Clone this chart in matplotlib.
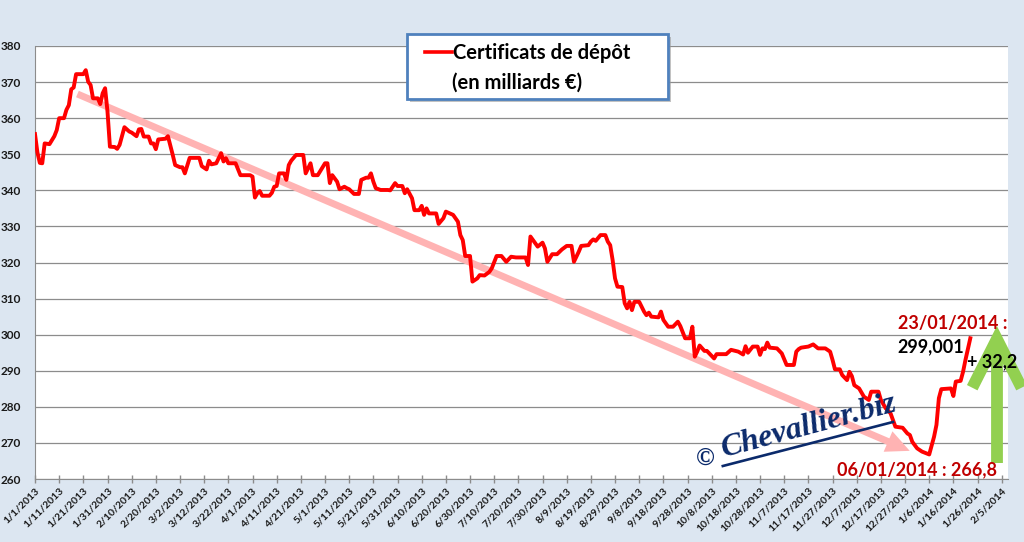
import datetime as dt
import matplotlib
matplotlib.use("Agg")
import matplotlib.pyplot as plt
from matplotlib.patches import FancyArrowPatch, Rectangle
from matplotlib.lines import Line2D

plt.rcParams['font.family'] = ['Lato', 'DejaVu Sans']

# ---- data (days since 1/1/2013, value in billions EUR) ----
days = [0, 1, 2, 3, 4, 6, 8, 9, 10, 12, 13, 14, 15, 16, 17, 20, 21, 22, 23, 24, 26, 27, 28, 29,
        30, 31, 33, 34, 35, 37, 39, 40, 42, 43, 44, 45, 47, 48, 49, 50, 51, 54, 55, 57, 58, 60,
        61, 62, 64, 68, 69, 71, 72, 73, 75, 76, 77, 78, 79, 80, 83, 85, 89, 90, 91, 92, 93, 94,
        97, 98, 99, 100, 101, 103, 104, 105, 106, 108, 111, 112, 114, 115, 117, 120, 121, 122,
        123, 125, 126, 128, 129, 130, 132, 134, 135, 137, 138, 139, 140, 141, 143, 146, 147,
        149, 150, 152, 153, 154, 156, 157, 159, 160, 161, 162, 163, 166, 167, 169, 170, 173,
        175, 176, 177, 178, 180, 181, 183, 184, 186, 188, 189, 191, 193, 195, 197, 199, 203,
        204, 205, 207, 208, 210, 211, 212, 214, 216, 218, 220, 222, 223, 225, 226, 229, 230,
        231, 232, 234, 236, 237, 238, 239, 240, 241, 243, 244, 245, 246, 247, 248, 250, 252,
        253, 254, 255, 258, 259, 260, 262, 264, 266, 267, 269, 271, 272, 273, 274, 275, 277,
        278, 281, 282, 286, 288, 291, 293, 294, 295, 297, 299, 300, 301, 302, 303, 304, 307,
        308, 309, 311, 314, 315, 316, 317, 320, 322, 324, 327, 329, 330, 331, 333, 334, 336,
        337, 338, 339, 341, 343, 345, 346, 349, 350, 352, 354, 356, 359, 361, 362, 363, 365,
        367, 370, 372, 373, 374, 375, 379, 380, 381, 383, 384, 385, 387]
values = [355.6, 350.5, 347.6, 347.5, 353.0, 352.8, 355.0, 356.7, 360.0, 360.0, 362.3, 363.6,
          368.0, 368.5, 372.2, 372.2, 373.3, 370.1, 369.2, 365.5, 365.5, 363.9, 366.9, 368.3,
          361.8, 352.1, 352.0, 351.5, 352.6, 357.5, 356.3, 356.0, 355.0, 356.9, 357.0, 354.9,
          354.9, 353.0, 353.0, 351.4, 354.1, 354.3, 355.0, 349.8, 347.0, 346.4, 346.4, 344.7,
          349.0, 349.0, 346.7, 345.8, 348.2, 347.2, 347.5, 348.9, 350.3, 348.0, 348.9, 347.5,
          347.5, 344.2, 344.2, 343.8, 338.0, 339.2, 339.8, 338.5, 338.5, 339.3, 341.0, 341.2,
          344.7, 344.7, 342.9, 347.0, 348.2, 349.8, 349.8, 344.7, 347.5, 344.2, 344.2, 347.5,
          347.5, 342.0, 344.2, 342.4, 340.3, 341.0, 340.6, 340.3, 339.0, 339.0, 342.9, 343.5,
          343.5, 344.7, 342.4, 340.6, 340.1, 340.1, 340.0, 342.0, 341.2, 341.2, 339.2, 340.3,
          337.8, 334.5, 334.5, 335.7, 333.2, 335.0, 333.6, 333.6, 330.7, 332.3, 334.1, 333.2,
          331.3, 327.6, 326.2, 321.8, 321.8, 314.7, 315.6, 316.5, 316.4, 317.4, 318.4, 321.8,
          321.8, 320.2, 321.6, 321.4, 321.4, 319.3, 327.2, 325.3, 324.4, 325.5, 323.9, 320.2,
          322.3, 322.3, 323.6, 324.6, 324.6, 320.2, 323.0, 324.6, 324.8, 325.8, 326.4, 326.0,
          327.6, 327.6, 325.8, 324.8, 320.7, 315.6, 313.3, 313.2, 308.7, 307.3, 309.1, 306.8,
          309.1, 309.1, 306.4, 305.4, 306.1, 305.0, 304.8, 306.4, 304.1, 302.2, 302.2, 303.6,
          302.4, 299.0, 299.0, 302.2, 293.9, 295.3, 297.0, 295.5, 295.5, 293.4, 294.6, 294.6,
          295.8, 295.3, 294.5, 296.8, 295.0, 296.7, 296.7, 294.4, 296.2, 296.0, 297.8, 296.4,
          296.2, 295.5, 294.8, 291.6, 291.6, 295.3, 296.0, 296.4, 296.7, 297.3, 296.2, 296.2,
          295.3, 293.0, 290.4, 290.4, 288.8, 287.4, 289.7, 288.5, 286.0, 285.1, 282.8, 281.9,
          284.2, 284.2, 281.9, 279.6, 278.2, 274.5, 274.2, 272.6, 272.2, 270.3, 268.5, 267.6,
          266.8, 271.7, 275.0, 282.4, 284.9, 285.1, 283.0, 287.0, 287.2, 289.7, 293.0, 299.0]

start_date = dt.date(2013, 1, 1)
tick_days = list(range(0, 401, 10))
tick_labels = [f"{d.month}/{d.day}/{d.year}" for d in
               (start_date + dt.timedelta(days=t) for t in tick_days)]
y_ticks = list(range(260, 381, 10))

legend_line1 = "Certificats de dépôt"
legend_line2 = "(en milliards €)"
label_end_date = "23/01/2014 :"
label_end_value = "299,001"
label_gain = "+ 32,2"
label_low = "06/01/2014 : 266,8"
watermark = "Chevallier.biz"

trend_start = (16.5, 367.0)
trend_end = (363.0, 267.5)

# ---- figure ----
W, H = 1024, 542
fig = plt.figure(figsize=(W / 100, H / 100), dpi=100, facecolor='#DCE6F1')
ax = fig.add_axes([35 / W, 1 - 479 / H, (1008 - 35) / W, (479 - 46) / H])
ax.set_facecolor('white')

ax.set_xlim(0, 402.6)
ax.set_ylim(260, 380)
ax.set_yticks(y_ticks)
ax.set_xticks(tick_days)
ax.set_xticklabels(tick_labels, rotation=45, ha='right', va='top',
                   rotation_mode='anchor', fontsize=7.5, fontweight='bold', color='#1a1a1a')
ax.set_yticklabels([str(v) for v in y_ticks], fontsize=8.5, fontweight='bold', color='#1a1a1a')
ax.tick_params(axis='x', direction='inout', length=6, width=1, color='#8c8c8c', pad=2)
ax.tick_params(axis='y', length=0, pad=10)
ax.grid(axis='y', color='#8c8c8c', linewidth=0.9)
ax.set_axisbelow(True)
for s in ['right', 'top']:
    ax.spines[s].set_visible(False)
ax.spines['left'].set_color('#8c8c8c')
ax.spines['bottom'].set_color('#8c8c8c')

# trend arrow (pink)
arr = FancyArrowPatch(trend_start, trend_end,
                      arrowstyle='simple,head_length=1.7,head_width=1.6,tail_width=0.5',
                      mutation_scale=10, color='#FFB3B3', lw=0, zorder=2)
ax.add_patch(arr)

# main series
ax.plot(days, values, color='#FF0000', lw=2.8, zorder=3, solid_joinstyle='round')

# green arrow
gx = 398
ax.plot([gx, gx], [264.5, 298.3], color='#92D050', lw=8.5, solid_capstyle='butt',
        clip_on=False, zorder=4)
ax.plot([gx - 10.2, gx, gx + 10.2], [285.3, 298.8, 285.3], color='#92D050', lw=8.5,
        solid_capstyle='butt', solid_joinstyle='miter', clip_on=False, zorder=4)

# annotations
ax.text(357, 303.0, label_end_date, color='#C00000', fontsize=13, fontweight='bold',
        ha='left', va='center', zorder=5)
ax.text(357, 296.6, label_end_value, color='black', fontsize=13, fontweight='bold',
        ha='left', va='center', zorder=5)
ax.text(385.6, 292.4, label_gain, color='black', fontsize=13, fontweight='bold',
        ha='left', va='center', zorder=5, clip_on=False)
ax.text(331.8, 262.5, label_low, color='#C00000', fontsize=13, fontweight='bold',
        ha='left', va='center', zorder=5)

# watermark
navy = '#0B2A6B'
ax.text(277.2, 265.8, "©", color=navy, fontsize=18, fontweight='bold', ha='center',
        va='center', family=['Liberation Serif', 'DejaVu Serif'], zorder=5)
ax.text(285.0, 266.0, watermark, color=navy, fontsize=23, fontstyle='italic',
        fontweight='bold', family=['Liberation Serif', 'DejaVu Serif'], ha='left',
        va='baseline', rotation=15, rotation_mode='anchor', zorder=5)
ax.plot([284.6, 355.0], [263.6, 275.8], color=navy, lw=1.9, zorder=5)

# legend box
lx0, ly0, lx1, ly1 = 407, 34, 668, 99
shadow = Rectangle(((lx0 + 3) / W, 1 - (ly1 + 3) / H), (lx1 - lx0) / W, (ly1 - ly0) / H,
                   transform=fig.transFigure, facecolor='#9a9a9a', edgecolor='none',
                   alpha=0.6, zorder=9)
box = Rectangle((lx0 / W, 1 - ly1 / H), (lx1 - lx0) / W, (ly1 - ly0) / H,
                transform=fig.transFigure, facecolor='white', edgecolor='#4F81BD',
                lw=2.0, zorder=10)
fig.add_artist(shadow)
fig.add_artist(box)
fig.add_artist(Line2D([425 / W, 452 / W], [1 - 52 / H, 1 - 52 / H], color='#FF0000', lw=2.6,
                      transform=fig.transFigure, zorder=11))
fig.text(453 / W, 1 - 53 / H, legend_line1, fontsize=14.5, fontweight='bold', color='black',
         ha='left', va='center', zorder=11)
fig.text(452 / W, 1 - 83 / H, legend_line2, fontsize=14.5, fontweight='bold', color='black',
         ha='left', va='center', zorder=11)

fig.savefig('out.png', dpi=100, facecolor=fig.get_facecolor())
